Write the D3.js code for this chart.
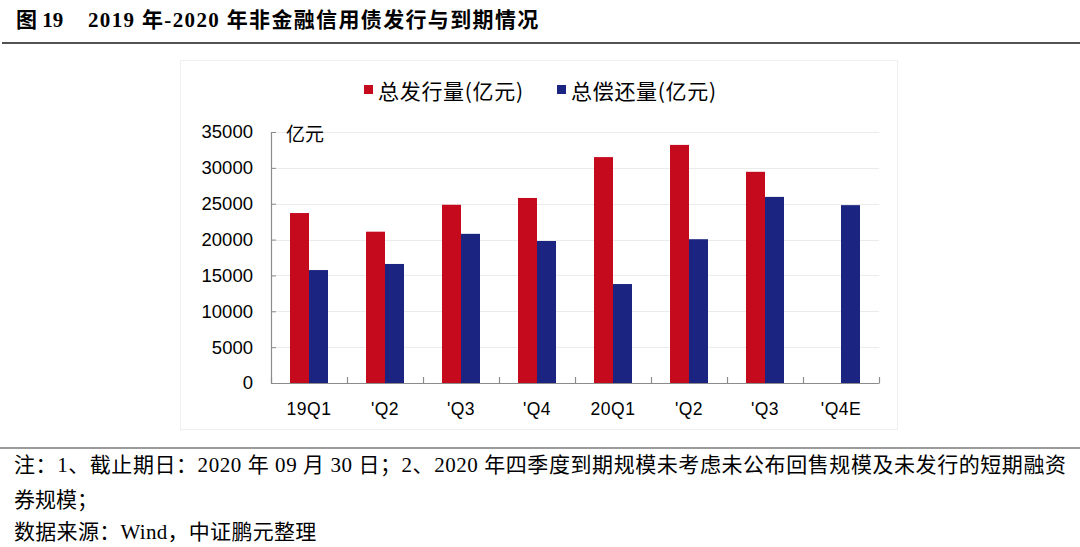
<!DOCTYPE html>
<html>
<head>
<meta charset="utf-8">
<script src="https://cdn.jsdelivr.net/npm/d3@7"></script>
<style>
  html, body { margin: 0; padding: 0; background: #fff; }
  svg { display: block; }
</style>
</head>
<body>
<svg id="chart" width="1080" height="547"></svg>
<script>
// ---- data ----
const categories = ["19Q1", "'Q2", "'Q3", "'Q4", "20Q1", "'Q2", "'Q3", "'Q4E"];
const issuance   = [23700, 21100, 24850, 25800, 31500, 33200, 29450, null];
const repayment  = [15750, 16600, 20800, 19800, 13800, 20050, 25950, 24800];
const seriesNames = ["总发行量(亿元)", "总偿还量(亿元)"];
const yTicks = [0, 5000, 10000, 15000, 20000, 25000, 30000, 35000];
const titleLeft = "图 19";
const titleRight = "2019 年-2020 年非金融信用债发行与到期情况";
const noteLine1 = "注：1、截止期日：2020 年 09 月 30 日；2、2020 年四季度到期规模未考虑未公布回售规模及未发行的短期融资";
const noteLine2 = "券规模；";
const sourceLine = "数据来源：Wind，中证鹏元整理";
const unitLabel = "亿元";

const colors = ["#C40A1C", "#1B2480"];
const cjkSans = "'Noto Sans CJK SC', 'Liberation Sans', sans-serif";
const serifMix = "'Liberation Serif', 'Noto Sans CJK SC', serif";

const svg = d3.select("#chart");

// title
svg.append("text").attr("x", 16).attr("y", 27)
  .attr("font-family", serifMix).attr("font-weight", "bold").attr("font-size", 21)
  .attr("fill", "#000").text(titleLeft);
svg.append("text").attr("x", 88).attr("y", 27)
  .attr("font-family", serifMix).attr("font-weight", "bold").attr("font-size", 21)
  .attr("letter-spacing", 1.35).attr("fill", "#000").text(titleRight);
svg.append("line").attr("x1", 2).attr("x2", 1080).attr("y1", 43).attr("y2", 43)
  .attr("stroke", "#1a1a1a").attr("stroke-width", 1.4);

// chart frame
svg.append("rect").attr("x", 180.5).attr("y", 60.5).attr("width", 717).attr("height", 369)
  .attr("fill", "none").attr("stroke", "#efefef").attr("stroke-width", 1);

// scales
const x0 = d3.scaleBand().domain(d3.range(categories.length)).range([271, 879]).padding(0);
const x1 = d3.scaleBand().domain([0, 1]).range([x0.bandwidth() * 0.25, x0.bandwidth() * 0.75]).padding(0);
const y = d3.scaleLinear().domain([0, 35000]).range([383, 132]);

// gridlines
svg.append("g").selectAll("line").data(yTicks.filter(d => d > 0)).join("line")
  .attr("x1", 271).attr("x2", 879)
  .attr("y1", d => Math.round(y(d)) + 0.5).attr("y2", d => Math.round(y(d)) + 0.5)
  .attr("stroke", "#ebebeb").attr("stroke-width", 1);

// bars
const series = [issuance, repayment];
series.forEach((vals, si) => {
  svg.append("g").selectAll("rect")
    .data(vals.map((v, i) => ({ i, v })).filter(d => d.v != null))
    .join("rect")
    .attr("x", d => x0(d.i) + x1(si))
    .attr("width", x1.bandwidth())
    .attr("y", d => y(d.v))
    .attr("height", d => y(0) - y(d.v))
    .attr("fill", colors[si]);
});

// y axis
const yAxis = d3.axisLeft(y).tickValues(yTicks).tickSize(-5).tickPadding(18).tickFormat(d3.format("d"));
const gy = svg.append("g").attr("transform", "translate(271,0)").call(yAxis);
gy.select(".domain").attr("stroke", "#8c8c8c").attr("stroke-width", 1.2);
gy.selectAll(".tick line").attr("stroke", "#8c8c8c");
gy.selectAll(".tick text").attr("font-family", "'Liberation Sans', Arial, sans-serif")
  .attr("font-size", 18.5).attr("fill", "#000");

// x axis
const xAxis = d3.axisBottom(x0).tickSize(0).tickPadding(0).tickFormat(i => categories[i]);
const gx = svg.append("g").attr("transform", "translate(0,383)").call(xAxis);
gx.select(".domain").attr("stroke", "#8c8c8c").attr("stroke-width", 1.2);
gx.selectAll(".tick text").attr("font-family", "'Liberation Sans', Arial, sans-serif")
  .attr("font-size", 17.5).attr("fill", "#000").attr("dy", 0).attr("y", 32)
  .attr("letter-spacing", 0.5);
// boundary ticks (inside, upward)
const bounds = d3.range(categories.length + 1).map(i => i < categories.length ? x0(i) : x0(categories.length - 1) + x0.bandwidth());
gx.append("g").selectAll("line").data(bounds).join("line")
  .attr("x1", d => Math.round(d) + 0.5).attr("x2", d => Math.round(d) + 0.5)
  .attr("y1", 0).attr("y2", -6)
  .attr("stroke", "#8c8c8c").attr("stroke-width", 1.2);

// unit label
svg.append("text").attr("x", 286).attr("y", 141)
  .attr("font-family", cjkSans).attr("font-size", 19).attr("fill", "#000").text(unitLabel);

// legend
const legendX = [364, 557];
seriesNames.forEach((name, i) => {
  svg.append("rect").attr("x", legendX[i]).attr("y", 85).attr("width", 9).attr("height", 9)
    .attr("fill", colors[i]);
  svg.append("text").attr("x", legendX[i] + 14).attr("y", 99)
    .attr("font-family", cjkSans).attr("font-size", 21).attr("letter-spacing", 0.7)
    .attr("fill", "#000").text(name);
});

// footer
svg.append("line").attr("x1", 0).attr("x2", 1080).attr("y1", 448).attr("y2", 448)
  .attr("stroke", "#7a7a7a").attr("stroke-width", 1.5);
svg.append("text").attr("x", 14).attr("y", 472)
  .attr("font-family", serifMix).attr("font-size", 21).attr("fill", "#000")
  .attr("textLength", 1052).attr("lengthAdjust", "spacing").text(noteLine1);
svg.append("text").attr("x", 14).attr("y", 507)
  .attr("font-family", serifMix).attr("font-size", 21).attr("fill", "#000").text(noteLine2);
svg.append("text").attr("x", 14).attr("y", 539)
  .attr("font-family", serifMix).attr("font-size", 21).attr("letter-spacing", 0.3)
  .attr("fill", "#000").text(sourceLine);
</script>
</body>
</html>
